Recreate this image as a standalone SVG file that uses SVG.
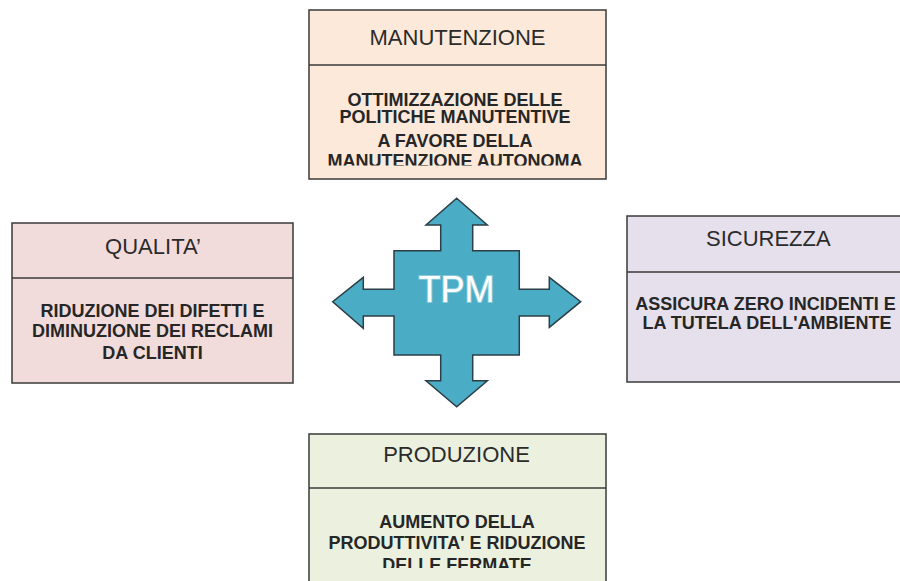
<svg xmlns="http://www.w3.org/2000/svg" width="900" height="581" viewBox="0 0 900 581">
<style>
.box{stroke:#3a3a3a;stroke-width:1.5}
.div{stroke:#3a3a3a;stroke-width:1.5}
.title{font-family:"Liberation Sans",Arial,sans-serif;font-size:22px;fill:#2b2b2b;text-anchor:middle}
.body{font-family:"Liberation Sans",Arial,sans-serif;font-size:18px;font-weight:bold;fill:#262626;text-anchor:middle}
.tpm{font-family:"Liberation Sans",Arial,sans-serif;font-size:36px;fill:#ffffff;text-anchor:middle;stroke:rgba(255,255,255,0.35);stroke-width:2;paint-order:stroke}
</style>
<defs>
<clipPath id="clipM"><rect x="309" y="66" width="297" height="99.5"/></clipPath>
<clipPath id="clipP"><rect x="309" y="489" width="297" height="79"/></clipPath>
</defs>
<rect width="900" height="581" fill="#ffffff"/>
<g id="connectors"></g>
<g id="manutenzione">
<rect class="box" x="309" y="10" width="297" height="169" fill="#fde9d9"/>
<line class="div" x1="309" y1="65" x2="606" y2="65"/>
<text class="title" x="457.5" y="45">MANUTENZIONE</text>
<g clip-path="url(#clipM)">
<text class="body" x="455" y="106">OTTIMIZZAZIONE DELLE</text>
<text class="body" x="455" y="122.7">POLITICHE MANUTENTIVE</text>
<text class="body" x="455" y="146.7">A FAVORE DELLA</text>
<text class="body" x="455" y="166.5">MANUTENZIONE AUTONOMA</text>
</g>
</g>
<g id="qualita">
<rect class="box" x="12" y="223" width="281" height="160" fill="#f2dcdb"/>
<line class="div" x1="12" y1="278" x2="293" y2="278"/>
<text class="title" x="153" y="254.3">QUALITA’</text>
<text class="body" x="152.5" y="317.3">RIDUZIONE DEI DIFETTI E</text>
<text class="body" x="152.5" y="336.7">DIMINUZIONE DEI RECLAMI</text>
<text class="body" x="152.5" y="359.3">DA CLIENTI</text>
</g>
<g id="sicurezza">
<rect class="box" x="627" y="216" width="282" height="166" fill="#e5e0ec"/>
<line class="div" x1="627" y1="272" x2="909" y2="272"/>
<text class="title" x="768.3" y="245.7">SICUREZZA</text>
<text class="body" x="765.5" y="310">ASSICURA ZERO INCIDENTI E</text>
<text class="body" x="767" y="329">LA TUTELA DELL'AMBIENTE</text>
</g>
<g id="produzione">
<rect class="box" x="309" y="434" width="297" height="160" fill="#ebf1de"/>
<line class="div" x1="309" y1="488" x2="606" y2="488"/>
<text class="title" x="456.5" y="462.3">PRODUZIONE</text>
<g clip-path="url(#clipP)">
<text class="body" x="457" y="528.3">AUMENTO DELLA</text>
<text class="body" x="457" y="549.3">PRODUTTIVITA' E RIDUZIONE</text>
<text class="body" x="457" y="570.5">DELLE FERMATE</text>
</g>
</g>
<g id="tpm">
<path d="M456.7,198.3 L487.3,225 L472.7,225 L472.7,250.7 L519.3,250.7 L519.3,289.3 L549.3,289.3 L549.3,277.3 L580.7,301.7 L549.3,327.3 L549.3,316 L519.3,316 L519.3,355 L472.7,355 L472.7,380.7 L487.3,380.7 L456.7,406.7 L426,380.7 L440.7,380.7 L440.7,355 L394,355 L394,316 L363.3,316 L363.3,328.3 L332.7,301.7 L363.3,277.3 L363.3,289.3 L394,289.3 L394,250.7 L440.7,250.7 L440.7,225 L426,225 Z" fill="#4bacc6" stroke="#2c3e46" stroke-width="1.5" stroke-linejoin="miter"/>
<text class="tpm" x="456.5" y="301.7">TPM</text>
</g>
</svg>
